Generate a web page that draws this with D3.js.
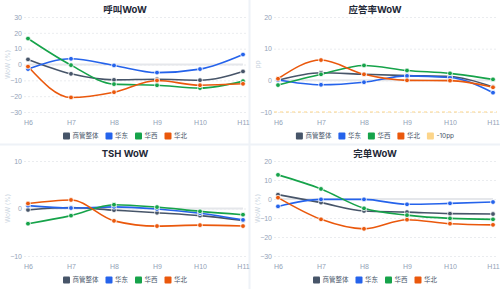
<!DOCTYPE html>
<html><head><meta charset="utf-8">
<script src="https://cdn.jsdelivr.net/npm/d3@7/dist/d3.min.js"></script>
<style>
html,body{margin:0;padding:0;background:#fff;}
svg{display:block;font-family:"Inter","Noto Sans CJK SC","Noto Sans",sans-serif;}
</style></head><body>
<svg id="c" width="500" height="289"></svg>
<script>
const categories = ["H6","H7","H8","H9","H10","H11"];
const seriesNames = ["商管整体","华东","华西","华北"];
const seriesColors = ["#475569","#2563eb","#16a34a","#ea580c"];

const titles = ["呼叫WoW","应答率WoW","TSH WoW","完单WoW"];
const axisTitles = ["WoW (%)","pp","WoW (%)","WoW (%)"];
const yTicks = [[-30,-20,-10,0,10,20,30],[-10,0,10,20],[-10,0,10],[-30,-20,-10,0,10,20]];

// panel 1: 呼叫WoW
const callTotal = [3.2,-5.9,-9.7,-9.3,-9.9,-4.4];
const callEast  = [-2.9,3.6,-0.6,-5.1,-2.9,6.3];
const callWest  = [16.4,-0.4,-12.4,-13.1,-14.9,-10.5];
const callNorth = [-1.3,-20.8,-17.5,-10.1,-13.1,-12.2];
// panel 2: 应答率WoW
const ansTotal = [0,2.4,1.9,1.5,1.2,-2.1];
const ansEast  = [0.1,-1.4,-0.6,1.4,0.9,-3.9];
const ansWest  = [-1.5,1.9,4.7,3.1,2.2,0.3];
const ansNorth = [0.5,6.4,1.9,0,-0.1,-2.2];
const ansThreshold = -10;
const ansThresholdLabel = "-10pp";
// panel 3: TSH WoW
const tshTotal = [-0.3,0.2,-0.35,-0.9,-1.5,-2.5];
const tshEast  = [0.6,0.1,0.35,-0.1,-1.0,-2.4];
const tshWest  = [-3.2,-1.5,0.8,0.3,-0.6,-1.3];
const tshNorth = [1.05,1.8,-2.6,-3.7,-3.5,-3.7];
// panel 4: 完单WoW
const doneTotal = [2.3,-1.9,-6.3,-6.9,-7.7,-7.9];
const doneEast  = [-3.9,-0.2,-0.2,-2.8,-2.3,-1.6];
const doneWest  = [12.7,5.3,-4.9,-8.5,-10.2,-10.7];
const doneNorth = [0.7,-10.7,-15.7,-10.9,-13.0,-13.6];

const panelData = [
  [callTotal,callEast,callWest,callNorth],
  [ansTotal,ansEast,ansWest,ansNorth],
  [tshTotal,tshEast,tshWest,tshNorth],
  [doneTotal,doneEast,doneWest,doneNorth]
];

const svg = d3.select("#c");
// separators
svg.append("rect").attr("x",248.5).attr("y",0).attr("width",2).attr("height",289).attr("fill","#eef2f7");
svg.append("rect").attr("x",0).attr("y",143.5).attr("width",500).attr("height",2).attr("fill","#eef2f7");

const offsets = [[0,0],[250,0],[0,144],[250,144]];

panelData.forEach((series,pi)=>{
  const [ox,oy] = offsets[pi];
  const g = svg.append("g").attr("transform",`translate(${ox},${oy})`);
  const ticks = yTicks[pi];
  const x = d3.scalePoint().domain(categories).range([28,243]);
  const y = d3.scaleLinear().domain([d3.min(ticks),d3.max(ticks)]).range([112,17]);

  // title
  g.append("text").attr("x",125).attr("y",12.5).attr("text-anchor","middle")
    .attr("font-size",9.5).attr("font-weight","bold").attr("fill","#1f2937").text(titles[pi]);

  // grid
  const yAxis = d3.axisLeft(y).tickValues(ticks).tickSize(0).tickPadding(0).tickFormat(d3.format("d"));
  const ga = g.append("g").attr("transform","translate(22,0)").call(yAxis);
  ga.select(".domain").remove();
  ga.selectAll("text").attr("fill","#94a3b8").attr("font-size",7).attr("x",0);
  ga.selectAll(".tick").append("line").attr("x1",2).attr("x2",225).attr("y1",0).attr("y2",0)
    .attr("stroke","#e5e7eb").attr("stroke-width",0.8).attr("stroke-dasharray","2,2");

  // zero line
  g.append("line").attr("x1",x(categories[0])).attr("x2",x(categories[categories.length-1]))
    .attr("y1",y(0)).attr("y2",y(0)).attr("stroke","#e5e7eb").attr("stroke-width",2);

  // threshold for panel 2
  if(pi===1){
    g.append("line").attr("x1",24).attr("x2",247).attr("y1",y(ansThreshold)).attr("y2",y(ansThreshold))
      .attr("stroke","#fcd58a").attr("stroke-width",1).attr("stroke-dasharray","3,3");
  }

  // axis title
  g.append("text").attr("transform",`translate(9.5,${(17+112)/2}) rotate(-90)`).attr("text-anchor","middle")
    .attr("font-size",6.5).attr("fill","#cbd5e1").text(axisTitles[pi]);

  // x axis labels
  const xAxis = d3.axisBottom(x).tickSize(0).tickPadding(0);
  const gx = g.append("g").attr("transform","translate(0,120)").call(xAxis);
  gx.select(".domain").remove();
  gx.selectAll("text").attr("fill","#94a3b8").attr("font-size",7).attr("dy","0.71em");

  // lines
  const line = d3.line().x((d,i)=>x(categories[i])).y(d=>y(d)).curve(d3.curveMonotoneX);
  series.forEach((vals,si)=>{
    g.append("path").attr("d",line(vals)).attr("fill","none")
      .attr("stroke",seriesColors[si]).attr("stroke-width",1.6);
  });
  series.forEach((vals,si)=>{
    g.selectAll(null).data(vals).enter().append("circle")
      .attr("cx",(d,i)=>x(categories[i])).attr("cy",d=>y(d)).attr("r",2.4)
      .attr("fill",seriesColors[si]).attr("stroke","#fff").attr("stroke-width",0.8);
  });

  // legend
  const items = seriesNames.map((n,i)=>({name:n,color:seriesColors[i],dash:false}));
  if(pi===1) items.push({name:ansThresholdLabel,color:"#fcd58a",dash:true});
  const lg = g.append("g");
  let cx = 0;
  items.forEach(it=>{
    const ig = lg.append("g").attr("transform",`translate(${cx},0)`);
    ig.append("rect").attr("x",0).attr("y",-3.5).attr("width",7).attr("height",7).attr("rx",1)
      .attr("fill",it.color);
    const t = ig.append("text").attr("x",9.5).attr("y",0).attr("dy","0.35em").attr("font-size",6.5)
      .attr("fill","#475569").text(it.name);
    const w = t.node().getComputedTextLength();
    cx += 9.5 + w + 7;
  });
  const total = cx - 7;
  lg.attr("transform",`translate(${125-total/2},136)`);
});
</script>
</body></html>
